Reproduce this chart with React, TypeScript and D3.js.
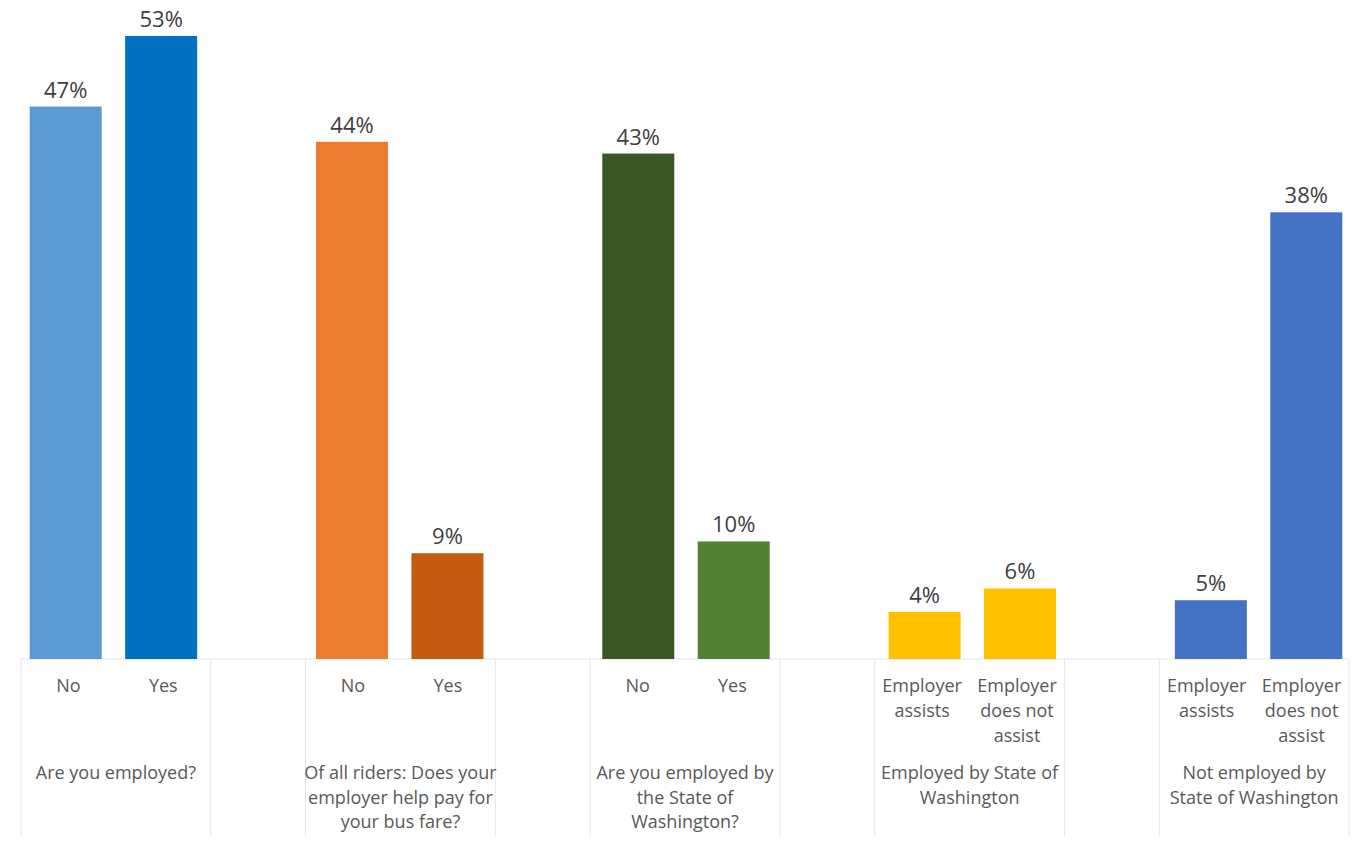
import React from "react";
import * as d3 from "d3";

const groupLabels: string[][] = [
  ["Are you employed?"],
  ["Of all riders: Does your", "employer help pay for", "your bus fare?"],
  ["Are you employed by", "the State of", "Washington?"],
  ["Employed by State of", "Washington"],
  ["Not employed by", "State of Washington"],
];
const barLabels: string[][][] = [
  [["No"], ["Yes"]],
  [["No"], ["Yes"]],
  [["No"], ["Yes"]],
  [["Employer", "assists"], ["Employer", "does not", "assist"]],
  [["Employer", "assists"], ["Employer", "does not", "assist"]],
];
const values: number[][] = [
  [47, 53],
  [44, 9],
  [43, 10],
  [4, 6],
  [5, 38],
];
const colors: string[][] = [
  ["#5B9BD5", "#0070C0"],
  ["#ED7D31", "#C55A11"],
  ["#385723", "#548235"],
  ["#FFC000", "#FFC000"],
  ["#4472C4", "#4472C4"],
];

const W = 1354;
const H = 844;
const baseY = 659;
const textColor = "#595959";
const font = "'Open Sans', sans-serif";

export default function App() {
  const slots: string[] = [];
  groupLabels.forEach((_, gi) => {
    slots.push(`g${gi}-0`, `g${gi}-1`);
    if (gi < groupLabels.length - 1) slots.push(`gap${gi}`);
  });
  const x = d3.scaleBand<string>().domain(slots).range([21, 1349]);
  const xBar = d3.scaleBand<string>().domain(slots).range([18, 1354]);
  const y = d3.scaleLinear().domain([0, 53]).range([baseY, 36]);
  const bw = 72;
  const sep: number[] = [];
  groupLabels.forEach((_, gi) => {
    const a = x(`g${gi}-0`)!;
    sep.push(a, a + 2 * x.bandwidth());
  });

  return (
    <svg width={W} height={H} style={{ position: "absolute", left: 0, top: 0, background: "#fff" }}>
      <line x1={21} x2={1349} y1={baseY} y2={baseY} stroke="#E6E6E6" strokeWidth={1} />
      {sep.map((sx, i) => (
        <line key={i} x1={sx} x2={sx} y1={baseY} y2={836} stroke="#E6E6E6" strokeWidth={1} />
      ))}
      {values.map((gv, gi) =>
        gv.map((v, bi) => {
          const key = `g${gi}-${bi}`;
          const bx = xBar(key)! + xBar.bandwidth() / 2;
          const cx = x(key)! + x.bandwidth() / 2;
          return (
            <g key={key}>
              <rect x={bx - bw / 2} y={y(v)} width={bw} height={baseY - y(v)} fill={colors[gi][bi]} />
              <text x={bx} y={y(v) - 9} textAnchor="middle" fontFamily={font} fontSize={22} fill="#404040">
                {v}%
              </text>
              {barLabels[gi][bi].map((t, li) => (
                <text key={li} x={cx} y={692 + li * 25} textAnchor="middle" fontFamily={font} fontSize={18} fill={textColor}>
                  {t}
                </text>
              ))}
            </g>
          );
        })
      )}
      {groupLabels.map((lines, gi) => {
        const cx = x(`g${gi}-0`)! + x.bandwidth();
        return lines.map((t, li) => (
          <text key={`${gi}-${li}`} x={cx} y={779 + li * 24.5} textAnchor="middle" fontFamily={font} fontSize={18} fill={textColor}>
            {t}
          </text>
        ));
      })}
    </svg>
  );
}
